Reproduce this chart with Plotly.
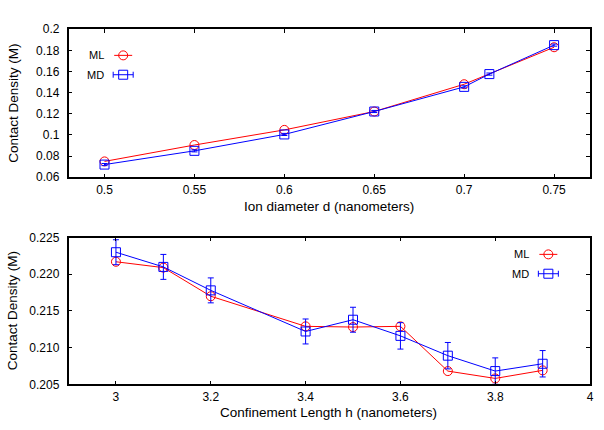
import plotly.graph_objects as go

# ---- Top panel data ----
d_ml = [0.5, 0.55, 0.6, 0.65, 0.7, 0.75]
cd_ml_top = [0.075, 0.0905, 0.1048, 0.1222, 0.148, 0.183]
d_md = [0.5, 0.55, 0.6, 0.65, 0.7, 0.714, 0.75]
cd_md_top = [0.072, 0.085, 0.1005, 0.1222, 0.1455, 0.1576, 0.185]
err_md_top = [0.001, 0.001, 0.001, 0.001, 0.001, 0.001, 0.001]

# ---- Bottom panel data ----
h_vals = [3.0, 3.1, 3.2, 3.4, 3.5, 3.6, 3.7, 3.8, 3.9]
cd_ml_bot = [0.2217, 0.2209, 0.2170, 0.2129, 0.2128, 0.2129, 0.2068, 0.2058, 0.2069]
cd_md_bot = [0.2230, 0.2210, 0.2178, 0.2122, 0.2138, 0.2116, 0.2089, 0.2068, 0.2078]
err_md_bot = [0.0017, 0.0017, 0.0017, 0.0017, 0.0017, 0.0018, 0.0018, 0.0018, 0.0018]

top_xticks = [0.5, 0.55, 0.6, 0.65, 0.7, 0.75]
top_yticks = [0.06, 0.08, 0.1, 0.12, 0.14, 0.16, 0.18, 0.2]
bot_xticks = [3, 3.2, 3.4, 3.6, 3.8, 4]
bot_yticks = [0.205, 0.21, 0.215, 0.22, 0.225]

RED = "#ff0000"
BLUE = "#0000ff"
FONT = "Liberation Sans, Arial, sans-serif"

W, H = 604, 430
L, R = 69, 594
T1, B1 = 23, 176
T2, B2 = 238.3, 390

fig = go.Figure()

fig.add_trace(go.Scatter(x=d_ml, y=cd_ml_top, mode="lines+markers", xaxis="x", yaxis="y",
                         line=dict(color=RED, width=1),
                         marker=dict(symbol="circle-open", size=9, color=RED, line=dict(width=1)),
                         showlegend=False))
fig.add_trace(go.Scatter(x=d_md, y=cd_md_top, mode="lines+markers", xaxis="x", yaxis="y",
                         line=dict(color=BLUE, width=1),
                         marker=dict(symbol="square-open", size=9, color=BLUE, line=dict(width=1)),
                         error_y=dict(type="data", array=err_md_top, color=BLUE, thickness=1, width=3),
                         showlegend=False))
fig.add_trace(go.Scatter(x=h_vals, y=cd_ml_bot, mode="lines+markers", xaxis="x2", yaxis="y2",
                         line=dict(color=RED, width=1),
                         marker=dict(symbol="circle-open", size=9, color=RED, line=dict(width=1)),
                         showlegend=False))
fig.add_trace(go.Scatter(x=h_vals, y=cd_md_bot, mode="lines+markers", xaxis="x2", yaxis="y2",
                         line=dict(color=BLUE, width=1),
                         marker=dict(symbol="square-open", size=9, color=BLUE, line=dict(width=1)),
                         error_y=dict(type="data", array=err_md_bot, color=BLUE, thickness=1, width=3),
                         showlegend=False))

axis_common = dict(showgrid=False, zeroline=False, showline=True, linecolor="black", linewidth=1.5,
                   mirror="ticks", ticks="inside", ticklen=4, tickcolor="black", tickwidth=1,
                   tickfont=dict(family=FONT, size=12, color="black"))

fig.update_layout(
    width=W, height=H, margin=dict(l=0, r=0, t=0, b=0),
    paper_bgcolor="white", plot_bgcolor="white",
    xaxis=dict(domain=[L / W, R / W], anchor="y", range=[0.48, 0.77], tickvals=top_xticks,
               ticktext=[f"{v:g}" for v in top_xticks], ticklabelstandoff=1, **axis_common),
    yaxis=dict(domain=[1 - B1 / H, 1 - T1 / H], anchor="x", range=[0.06, 0.2], tickvals=top_yticks,
               ticktext=[f"{v:g}" for v in top_yticks], ticklabelstandoff=5, **axis_common),
    xaxis2=dict(domain=[L / W, R / W], anchor="y2", range=[2.9, 4.0], tickvals=bot_xticks,
                ticktext=[f"{v:g}" for v in bot_xticks], ticklabelstandoff=1, **axis_common),
    yaxis2=dict(domain=[1 - B2 / H, 1 - T2 / H], anchor="x2", range=[0.205, 0.225], tickvals=bot_yticks,
                ticktext=[f"{v:.3f}" for v in bot_yticks], ticklabelstandoff=5, **axis_common),
    showlegend=False,
)

# Axis titles
title_font = dict(family=FONT, size=13.5, color="black")
fig.add_annotation(text="Contact Density (M)", xref="paper", yref="paper", x=13.5 / W, y=1 - ((T1 + B1) / 2) / H,
                   textangle=-90, showarrow=False, font=title_font, xanchor="center", yanchor="middle")
fig.add_annotation(text="Ion diameter d (nanometers)", xref="paper", yref="paper", x=331 / W,
                   y=1 - 206 / H, showarrow=False, font=title_font, xanchor="center", yanchor="middle")
fig.add_annotation(text="Contact Density (M)", xref="paper", yref="paper", x=13.5 / W, y=1 - ((T2 + B2) / 2) / H,
                   textangle=-90, showarrow=False, font=title_font, xanchor="center", yanchor="middle")
fig.add_annotation(text="Confinement Length h (nanometers)", xref="paper", yref="paper", x=331 / W,
                   y=1 - 419 / H, showarrow=False, font=title_font, xanchor="center", yanchor="middle")

# Manual gnuplot-style legends (text left of key)
leg_font = dict(family=FONT, size=11, color="black")


def add_legend(xr, yr, text_x, sym_x, y_ml, y_md):
    fig.add_annotation(text="ML", xref=xr, yref=yr, x=text_x, y=y_ml, showarrow=False,
                       xanchor="right", yanchor="middle", font=leg_font)
    fig.add_annotation(text="MD", xref=xr, yref=yr, x=text_x, y=y_md, showarrow=False,
                       xanchor="right", yanchor="middle", font=leg_font)
    # ML key: line + open circle
    fig.add_shape(type="line", xref=xr, yref=yr, xsizemode="pixel", ysizemode="pixel",
                  xanchor=sym_x, yanchor=y_ml, x0=-9, x1=9, y0=0, y1=0, line=dict(color=RED, width=1))
    fig.add_shape(type="circle", xref=xr, yref=yr, xsizemode="pixel", ysizemode="pixel",
                  xanchor=sym_x, yanchor=y_ml, x0=-4.5, x1=4.5, y0=-4.5, y1=4.5,
                  line=dict(color=RED, width=1), fillcolor="rgba(0,0,0,0)")
    # MD key: horizontal error bar + open square
    fig.add_shape(type="line", xref=xr, yref=yr, xsizemode="pixel", ysizemode="pixel",
                  xanchor=sym_x, yanchor=y_md, x0=-10, x1=10, y0=0, y1=0, line=dict(color=BLUE, width=1))
    for cx in (-10, 10):
        fig.add_shape(type="line", xref=xr, yref=yr, xsizemode="pixel", ysizemode="pixel",
                      xanchor=sym_x, yanchor=y_md, x0=cx, x1=cx, y0=-3, y1=3, line=dict(color=BLUE, width=1))
    fig.add_shape(type="rect", xref=xr, yref=yr, xsizemode="pixel", ysizemode="pixel",
                  xanchor=sym_x, yanchor=y_md, x0=-4.5, x1=4.5, y0=-4.5, y1=4.5,
                  line=dict(color=BLUE, width=1), fillcolor="rgba(0,0,0,0)")


add_legend("x domain", "y domain", (107 - L) / (R - L), (124 - L) / (R - L),
           1 - (50 - T1) / (B1 - T1), 1 - (70 - T1) / (B1 - T1))
add_legend("x2 domain", "y2 domain", (535 - L) / (R - L), (552 - L) / (R - L),
           1 - (255.7 - T2) / (B2 - T2), 1 - (275.7 - T2) / (B2 - T2))

fig.write_html("out.html")
